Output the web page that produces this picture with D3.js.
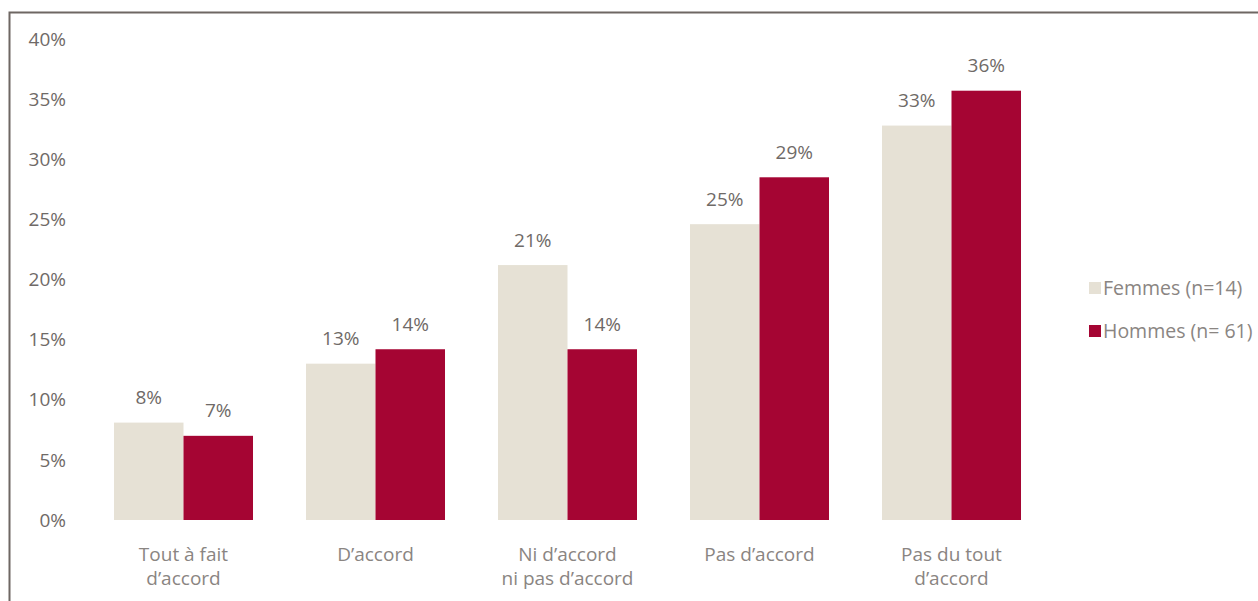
<!DOCTYPE html>
<html>
<head>
<meta charset="utf-8">
<script src="https://cdn.jsdelivr.net/npm/d3@7"></script>
<style>
  body { margin: 0; background: #fff; }
  text { font-family: "Open Sans", sans-serif; }
</style>
</head>
<body>
<div id="graph"></div>
<script>
var width = 1258, height = 601;

// data
var categories = ["Tout à fait\nd’accord", "D’accord", "Ni d’accord\nni pas d’accord", "Pas d’accord", "Pas du tout\nd’accord"];
var femmes = [8.1, 13.0, 21.2, 24.6, 32.8];
var hommes = [7.0, 14.2, 14.2, 28.5, 35.7];
var femmesLabels = ["8%", "13%", "21%", "25%", "33%"];
var hommesLabels = ["7%", "14%", "14%", "29%", "36%"];
var seriesNames = ["Femmes (n=14)", "Hommes (n= 61)"];
var yTicks = [0, 5, 10, 15, 20, 25, 30, 35, 40];

var colors = ["#e6e1d5", "#a50533"];
var textColor = "#6f6a67";

const svg = d3.select("#graph")
  .append("svg")
    .attr("width", width)
    .attr("height", height);

// frame
svg.append("path")
  .attr("d", "M9.5,601 V12.5 H1258")
  .attr("fill", "none")
  .attr("stroke", "#6e6763")
  .attr("stroke-width", 2);

var x = d3.scaleBand()
  .domain(categories)
  .range([87.5, 1047.5])
  .paddingInner(0.276)
  .paddingOuter(0.138);

var x1 = d3.scaleBand()
  .domain([0, 1])
  .range([0, x.bandwidth()]);

var y = d3.scaleLinear()
  .domain([0, 40])
  .range([520, 39]);

// y axis labels
svg.append("g")
  .selectAll("text")
  .data(yTicks)
  .enter()
  .append("text")
    .attr("x", 66)
    .attr("y", function(d) { return y(d); })
    .attr("dy", "0.35em")
    .attr("text-anchor", "end")
    .attr("fill", textColor)
    .style("font-size", "19px")
    .text(function(d) { return d + "%"; });

var rows = categories.map(function(c, i) {
  return {cat: c, vals: [femmes[i], hommes[i]], labels: [femmesLabels[i], hommesLabels[i]]};
});

var groups = svg.selectAll(".grp")
  .data(rows)
  .enter()
  .append("g")
    .attr("class", "grp")
    .attr("transform", function(d) { return "translate(" + x(d.cat) + ",0)"; });

groups.selectAll("rect")
  .data(function(d) { return d.vals.map(function(v, k) { return {k: k, v: v}; }); })
  .enter()
  .append("rect")
    .attr("x", function(d) { return x1(d.k); })
    .attr("y", function(d) { return y(d.v); })
    .attr("width", x1.bandwidth())
    .attr("height", function(d) { return y(0) - y(d.v); })
    .attr("fill", function(d) { return colors[d.k]; });

groups.selectAll(".val")
  .data(function(d) { return d.vals.map(function(v, k) { return {k: k, v: v, l: d.labels[k]}; }); })
  .enter()
  .append("text")
    .attr("class", "val")
    .attr("x", function(d) { return x1(d.k) + x1.bandwidth() / 2; })
    .attr("y", function(d) { return y(d.v) - 25; })
    .attr("dy", "0.35em")
    .attr("text-anchor", "middle")
    .attr("fill", textColor)
    .style("font-size", "19px")
    .text(function(d) { return d.l; });

// category labels
groups.append("text")
  .attr("text-anchor", "middle")
  .attr("fill", "#8a8582")
  .style("font-size", "19px")
  .selectAll("tspan")
  .data(function(d) { return d.cat.split("\n"); })
  .enter()
  .append("tspan")
    .attr("x", x.bandwidth() / 2)
    .attr("y", function(d, i) { return 554 + i * 24; })
    .attr("dy", "0.35em")
    .text(function(d) { return d; });

// legend
var legend = svg.selectAll(".legend")
  .data(seriesNames)
  .enter()
  .append("g")
    .attr("class", "legend")
    .attr("transform", function(d, i) { return "translate(1089," + (288 + i * 43) + ")"; });

legend.append("rect")
  .attr("x", 0)
  .attr("y", -6)
  .attr("width", 12)
  .attr("height", 12)
  .attr("fill", function(d, i) { return colors[i]; });

legend.append("text")
  .attr("x", 14)
  .attr("y", 0)
  .attr("dy", "0.35em")
  .attr("fill", "#8a8582")
  .style("font-size", "19.5px")
  .text(function(d) { return d; });
</script>
</body>
</html>
